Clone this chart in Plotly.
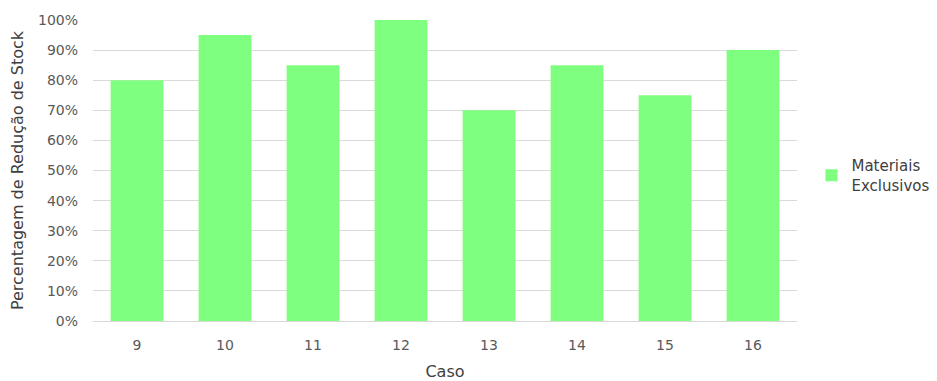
import plotly.graph_objects as go

casos = ["9", "10", "11", "12", "13", "14", "15", "16"]
reducao = [0.80, 0.95, 0.85, 1.00, 0.70, 0.85, 0.75, 0.90]
serie = "Materiais<br>Exclusivos"
y_ticks = [i / 10 for i in range(11)]

FONT = "DejaVu Sans, Liberation Sans, sans-serif"

fig = go.Figure()
fig.add_trace(go.Bar(
    x=casos, y=reducao, name=serie,
    marker=dict(color="#7FFF7F", line=dict(width=0)),
    showlegend=True,
))

fig.update_layout(
    width=937, height=381,
    margin=dict(l=93, r=140, t=20, b=60, autoexpand=False),
    paper_bgcolor="white", plot_bgcolor="white",
    font=dict(family=FONT, size=14, color="#595959"),
    bargap=0.4,
    legend=dict(xref="container", yref="container", x=0.866, y=0.54,
                xanchor="left", yanchor="middle",
                font=dict(family=FONT, size=15, color="#404040"), itemwidth=30),
    xaxis=dict(
        title=dict(text="Caso", font=dict(size=16, color="#404040"), standoff=20),
        showgrid=False, showline=True, linecolor="#d9d9d9", linewidth=1,
        ticks="", ticklabelstandoff=11, tickfont=dict(size=14, color="#595959"),
    ),
    yaxis=dict(
        title=dict(text="Percentagem de Redução de Stock", font=dict(size=16, color="#404040"), standoff=10),
        range=[0, 1.0], tickvals=y_ticks, tickformat=".0%",
        showgrid=True, gridcolor="#d9d9d9", gridwidth=1,
        zeroline=False, showline=False, ticks="", ticklabelstandoff=14,
        tickfont=dict(size=14, color="#595959"),
    ),
)

fig.write_html("out.html")
